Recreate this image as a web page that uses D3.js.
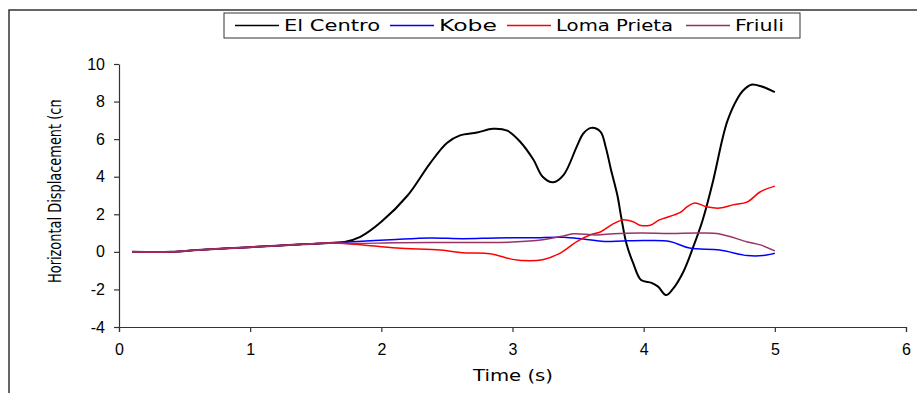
<!DOCTYPE html>
<meta charset="utf-8">
<style>
body { margin: 0; background: #fff; }
svg { display: block; font-family: "DejaVu Sans", Verdana, sans-serif; }
.axis path, .axis line { stroke: #333; stroke-width: 1.2; }
.axis text { font-size: 16px; fill: #000; }
</style>
<svg width="917" height="393"></svg>
<script src="https://d3js.org/d3.v7.min.js"></script>
<script>
// series names and colours
var names = ["El Centro", "Kobe", "Loma Prieta", "Friuli"];
var colors = ["#000000", "#0000ff", "#ff0000", "#993366"];

// time (s) and horizontal displacement (cm)
var elCentroT = [0.1,0.4,0.6,0.8,1.0,1.2,1.4,1.6,1.72,1.84,2.0,2.2,2.37,2.5,2.6,2.73,2.85,2.96,3.06,3.16,3.23,3.31,3.39,3.49,3.54,3.6,3.67,3.71,3.75,3.8,3.83,3.87,3.92,3.98,4.06,4.11,4.17,4.22,4.3,4.38,4.45,4.53,4.6,4.64,4.71,4.76,4.82,4.9,5.0];
var elCentroV = [0,0,0.1,0.18,0.25,0.32,0.4,0.47,0.53,0.8,1.6,3.0,4.7,5.8,6.2,6.35,6.55,6.45,5.85,4.9,4.0,3.7,4.1,5.6,6.3,6.6,6.4,5.6,4.4,3.0,1.8,0.4,-0.6,-1.5,-1.65,-1.85,-2.3,-2.0,-1.1,0.3,1.7,3.8,6.0,7.0,8.1,8.6,8.9,8.8,8.5];

var kobeT = [0.1,0.4,0.6,0.8,1.0,1.2,1.4,1.6,1.75,2.07,2.37,2.62,2.88,3.15,3.39,3.54,3.7,3.84,4.02,4.2,4.35,4.58,4.79,4.91,5.0];
var kobeV = [0,0,0.1,0.18,0.25,0.32,0.4,0.47,0.53,0.64,0.74,0.7,0.74,0.75,0.78,0.68,0.55,0.58,0.6,0.55,0.2,0.1,-0.2,-0.2,-0.07];

var lomaT = [0.1,0.4,0.6,0.8,1.0,1.2,1.4,1.6,1.72,1.86,2.12,2.45,2.62,2.83,3.0,3.13,3.23,3.36,3.49,3.59,3.67,3.77,3.84,3.92,3.97,4.05,4.12,4.28,4.33,4.39,4.48,4.58,4.68,4.79,4.89,5.0];
var lomaV = [0,0,0.1,0.18,0.25,0.32,0.4,0.47,0.45,0.37,0.2,0.1,-0.05,-0.1,-0.4,-0.48,-0.42,-0.08,0.55,0.9,1.06,1.5,1.7,1.6,1.42,1.42,1.7,2.1,2.4,2.6,2.4,2.33,2.5,2.66,3.2,3.5];

var friuliT = [0.1,0.4,0.6,0.8,1.0,1.2,1.4,1.6,1.8,2.12,2.6,3.0,3.23,3.39,3.46,3.64,3.77,3.97,4.2,4.43,4.58,4.79,4.89,5.0];
var friuliV = [0,0,0.1,0.18,0.25,0.32,0.4,0.47,0.45,0.48,0.5,0.52,0.64,0.85,0.96,0.9,0.96,1.0,0.98,1.0,0.95,0.53,0.37,0.05];

var xTicks = [0, 1, 2, 3, 4, 5, 6];
var yTicks = [-4, -2, 0, 2, 4, 6, 8, 10];

var series = [
  { t: elCentroT, v: elCentroV },
  { t: kobeT, v: kobeV },
  { t: lomaT, v: lomaV },
  { t: friuliT, v: friuliV }
];

var svg = d3.select("svg");

var x = d3.scaleLinear().domain([0, 6]).range([119, 906]);
var y = d3.scaleLinear().domain([-4, 10]).range([327, 64]);

// plain labels, hyphen for the minus sign
var fmt = function(d) { return String(d); };

// outer frame (only top and left edges are visible)
svg.append("path")
    .attr("d", "M9,393V10H917")
    .attr("fill", "none")
    .attr("stroke", "#333")
    .attr("stroke-width", 1.5);

// axes
svg.append("g")
    .attr("class", "axis")
    .attr("transform", "translate(0," + y(-4) + ")")
    .call(d3.axisBottom(x).tickValues(xTicks).tickFormat(fmt).tickSize(5).tickSizeOuter(5).tickPadding(9))
    .selectAll("text").attr("dy", "0.9em");

svg.append("g")
    .attr("class", "axis")
    .attr("transform", "translate(" + x(0) + ",0)")
    .call(d3.axisLeft(y).tickValues(yTicks).tickFormat(fmt).tickSize(5).tickSizeOuter(0).tickPadding(9));

// lines
var line = d3.line()
    .x(function(d) { return x(d[0]); })
    .y(function(d) { return y(d[1]); })
    .curve(d3.curveCatmullRom.alpha(0.5));

series.forEach(function(s, i) {
  svg.append("path")
    .datum(s.t.map(function(t, j) { return [t, s.v[j]]; }))
    .attr("fill", "none")
    .attr("stroke", colors[i])
    .attr("stroke-width", i == 0 ? 2 : 1.5)
    .attr("stroke-linejoin", "round")
    .attr("d", line);
});

// axis titles
svg.append("text")
    .attr("x", 513)
    .attr("y", 381)
    .attr("text-anchor", "middle")
    .attr("font-size", "16px")
    .attr("textLength", 80)
    .attr("lengthAdjust", "spacingAndGlyphs")
    .text("Time (s)");

// y title is cut off at the top in the original
svg.append("clipPath").attr("id", "ylab")
  .append("rect").attr("x", 0).attr("y", 100).attr("width", 100).attr("height", 300);

svg.append("g")
    .attr("clip-path", "url(#ylab)")
  .append("text")
    .attr("transform", "translate(61,283) rotate(-90)")
    .attr("font-size", "18px")
    .attr("textLength", 188)
    .attr("lengthAdjust", "spacingAndGlyphs")
    .text("Horizontal Displacement (cm");

// legend
var legend = svg.append("g");
legend.append("rect")
    .attr("x", 224).attr("y", 13)
    .attr("width", 576).attr("height", 25)
    .attr("fill", "#fff")
    .attr("stroke", "#333")
    .attr("stroke-width", 1);

var legX = [235, 390, 507, 686];
var legW = [96, 58, 117, 49];
names.forEach(function(n, i) {
  legend.append("line")
    .attr("x1", legX[i]).attr("x2", legX[i] + 44)
    .attr("y1", 25.5).attr("y2", 25.5)
    .attr("stroke", colors[i])
    .attr("stroke-width", 1.3);
  legend.append("text")
    .attr("x", legX[i] + 49)
    .attr("y", 31)
    .attr("font-size", "16px")
    .attr("textLength", legW[i])
    .attr("lengthAdjust", "spacingAndGlyphs")
    .text(n);
});
</script>
